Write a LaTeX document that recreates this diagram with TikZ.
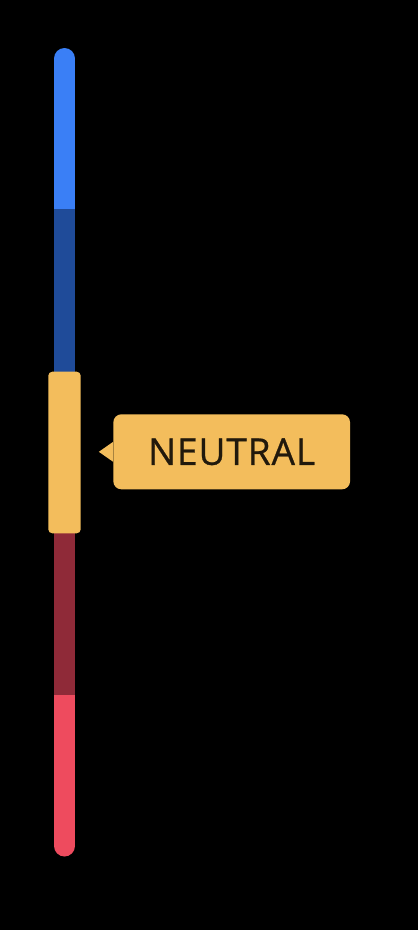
\documentclass[tikz,border=0pt]{standalone}
\usepackage{fontspec}
\setmainfont{Open Sans}
\definecolor{upper}{HTML}{3A7FF6}
\definecolor{upperdim}{HTML}{1F4B99}
\definecolor{neutral}{HTML}{F3BD5C}
\definecolor{lowerdim}{HTML}{8F2A38}
\definecolor{lower}{HTML}{EE4B5E}
\definecolor{ink}{HTML}{21190C}

\begin{document}
\begin{tikzpicture}[x=1pt, y=-1pt]
\fill[black] (0,0) rectangle (418,930);
\useasboundingbox (0,0) rectangle (418,930);
% the bar
\draw[upper, line width=21pt, line cap=round] (64.5,58.5) -- (64.5,230);
\draw[lower, line width=21pt, line cap=round] (64.5,680) -- (64.5,846);
\fill[upperdim] (54,209) rectangle (75,372);
\fill[lowerdim] (54,532) rectangle (75,695);
\node[fill=neutral, rounded corners=4pt, minimum width=32.4pt, minimum height=161.6pt, inner sep=0pt] (N) at (64.5,452.5) {};
% label
\node[fill=neutral, rounded corners=8pt, minimum width=236.7pt, minimum height=75pt, inner sep=0pt, text=ink, font=\fontsize{37}{40}\selectfont\addfontfeatures{LetterSpace=2.5, FakeBold=0.7}] (L) at (231.7,451.8) {NEUTRAL};
\fill[neutral] ([yshift=10pt]L.west) -- ([xshift=-14.3pt]L.west) -- ([yshift=-10pt]L.west) -- cycle;
\end{tikzpicture}
\end{document}
